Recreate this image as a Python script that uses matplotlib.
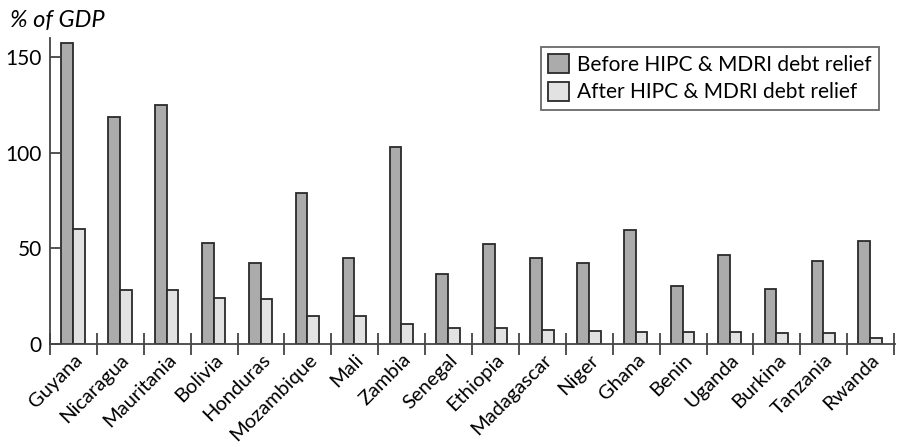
import matplotlib
matplotlib.use("Agg")
import matplotlib.pyplot as plt
import numpy as np

countries = ["Guyana", "Nicaragua", "Mauritania", "Bolivia", "Honduras",
             "Mozambique", "Mali", "Zambia", "Senegal", "Ethiopia",
             "Madagascar", "Niger", "Ghana", "Benin", "Uganda", "Burkina",
             "Tanzania", "Rwanda"]
before = [157.4, 118.9, 125.0, 52.8, 42.3, 78.9, 45.0, 102.9, 36.5, 52.5,
          44.9, 42.1, 59.8, 30.4, 46.3, 29.0, 43.3, 53.7]
after = [60.0, 28.0, 28.0, 24.0, 23.3, 14.8, 14.4, 10.6, 8.5, 8.2,
         7.5, 6.9, 6.4, 6.1, 6.1, 5.9, 5.6, 3.1]
yticks = [0, 50, 100, 150]

plt.rcParams["font.family"] = ["Lato", "DejaVu Sans"]

fig = plt.figure(figsize=(8.99, 4.47), dpi=100)
ax = fig.add_axes([0.0556, 0.2304, 0.94, 0.6846])

x = np.arange(len(countries)) + 0.5
w = 0.25
ax.bar(x - w / 2 - 0.01, before, w, color="#ababab", edgecolor="#2a2a2a",
       linewidth=1.3, label="Before HIPC & MDRI debt relief")
ax.bar(x + w / 2 - 0.01, after, w, color="#e2e2e2", edgecolor="#2a2a2a",
       linewidth=1.3, label="After HIPC & MDRI debt relief")

ax.set_xlim(0, len(countries) + 0.02)
ax.set_ylim(0, 160)

for s in ["top", "right"]:
    ax.spines[s].set_visible(False)
for s in ["left", "bottom"]:
    ax.spines[s].set_color("#444444")
    ax.spines[s].set_linewidth(1.3)

ax.set_yticks(yticks)
ax.tick_params(axis="y", direction="in", length=8, width=1.3, color="#444444",
               labelsize=15, pad=6)

# separators between countries, labels at centres
ax.set_xticks(np.arange(len(countries) + 1))
ax.set_xticklabels([])
ax.tick_params(axis="x", which="major", direction="inout", length=16,
               width=1.3, color="#444444")
ax.set_xticks(x, minor=True)
ax.set_xticklabels(countries, minor=True, rotation=45, ha="right",
                   rotation_mode="anchor", fontsize=14.5)
ax.tick_params(axis="x", which="minor", length=0, pad=5)

fig.text(0.011, 0.94, "% of GDP", fontsize=17, style="italic")

leg = ax.legend(loc="upper right", bbox_to_anchor=(0.981, 0.9706),
                borderaxespad=0, fontsize=15,
                frameon=True, fancybox=False, edgecolor="#444444",
                handlelength=1.0, handleheight=1.0, handletextpad=0.4,
                borderpad=0.35, labelspacing=0.35)
leg.get_frame().set_linewidth(1.3)

fig.savefig("out.png", dpi=100)
